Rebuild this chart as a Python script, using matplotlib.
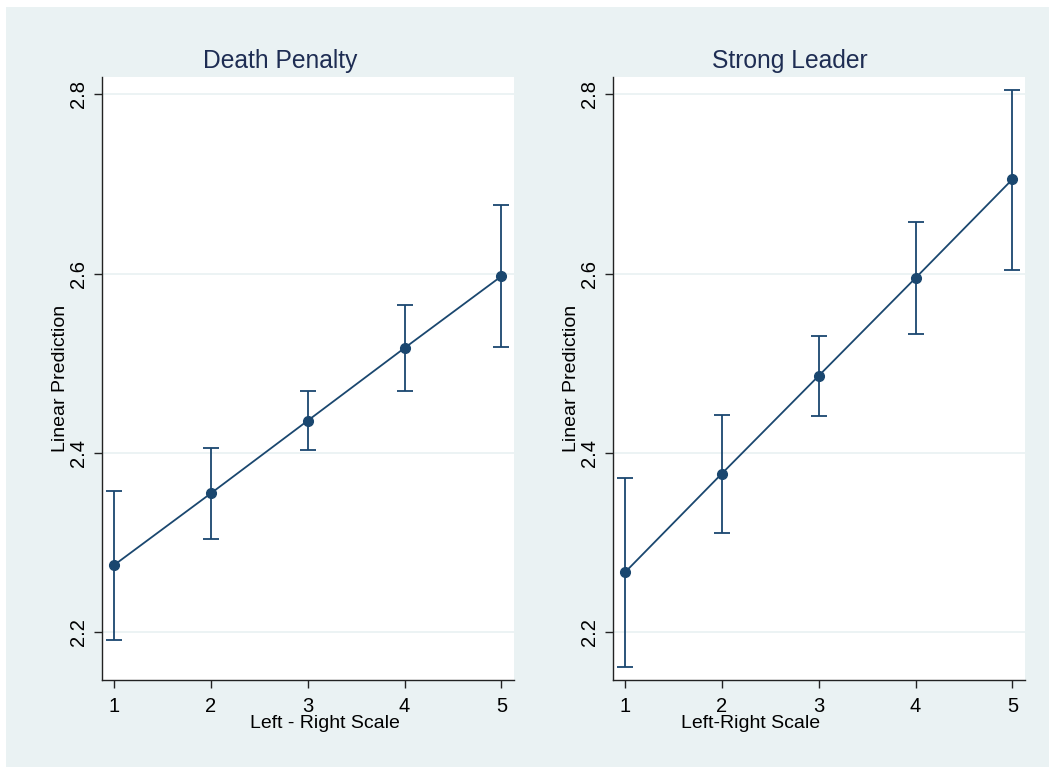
import numpy as np
import matplotlib.pyplot as plt
from matplotlib.patches import Rectangle

plt.rcParams['font.family'] = ['Liberation Sans', 'DejaVu Sans']

# 数据：左右量表 1-5 的线性预测值及置信区间
scale = [1, 2, 3, 4, 5]
death_pred = [2.275, 2.355, 2.436, 2.517, 2.597]
death_lo = [2.192, 2.304, 2.403, 2.469, 2.518]
death_hi = [2.358, 2.406, 2.469, 2.565, 2.676]
leader_pred = [2.267, 2.377, 2.486, 2.595, 2.705]
leader_lo = [2.162, 2.311, 2.441, 2.533, 2.604]
leader_hi = [2.372, 2.442, 2.530, 2.657, 2.804]

titles = ['Death Penalty', 'Strong Leader']
xlabels = ['Left - Right Scale', 'Left-Right Scale']
yticks = [2.2, 2.4, 2.6, 2.8]

navy = '#1a476f'
bg = '#eaf2f3'
W, H = 1049, 767

fig = plt.figure(figsize=(10.49, 7.67), dpi=100, facecolor='white')
# 背景色块（左上留白边）
fig.patches.append(Rectangle((6 / W, 0), 1, 1 - 7 / H, transform=fig.transFigure,
                             facecolor=bg, edgecolor='none', zorder=-10))

panels = [(death_pred, death_lo, death_hi), (leader_pred, leader_lo, leader_hi)]
lefts = [101.7, 612.7]        # 坐标轴左边缘（像素）
title_x = [280, 789.5]        # 标题中心（像素）
xlab_x = [325, 751]           # x轴标签中心（像素）

for i, (pred, lo, hi) in enumerate(panels):
    ax = fig.add_axes([lefts[i] / W, 1 - 680 / H, 412.3 / W, 603 / H])
    ax.set_facecolor('white')
    pred = np.array(pred)
    yerr = [pred - np.array(lo), np.array(hi) - pred]
    ax.errorbar(scale, pred, yerr=yerr, fmt='none', ecolor=navy, elinewidth=1.3,
                capsize=5.5, capthick=1.3, zorder=3)
    ax.plot(scale, pred, color=navy, lw=1.3, marker='o', ms=7, zorder=4)

    ax.set_xlim(0.873, 5.13)
    ax.set_ylim(2.147, 2.819)
    ax.set_xticks(scale)
    ax.set_yticks(yticks)
    ax.set_yticklabels([str(t) for t in yticks], rotation=90, va='center')
    ax.grid(axis='y', color=bg, lw=1.3)
    ax.set_axisbelow(True)
    for s in ['top', 'right']:
        ax.spines[s].set_visible(False)
    for s in ['left', 'bottom']:
        ax.spines[s].set_linewidth(1.0)
        ax.spines[s].set_color('#222222')
    ax.tick_params(direction='out', length=6, width=1, labelsize=14.5, color='#222222')
    ax.tick_params(axis='x', pad=6)
    ax.tick_params(axis='y', pad=4)

    fig.text(title_x[i] / W, 1 - 68.3 / H, titles[i], fontsize=17.7, color='#1e2d53',
             ha='center', va='baseline')
    fig.text(xlab_x[i] / W, 1 - 727.5 / H, xlabels[i], fontsize=14, color='black',
             ha='center', va='baseline')
    ax.set_ylabel('Linear Prediction', fontsize=14, labelpad=0)

fig.savefig('out.png', dpi=100, facecolor=fig.get_facecolor())
